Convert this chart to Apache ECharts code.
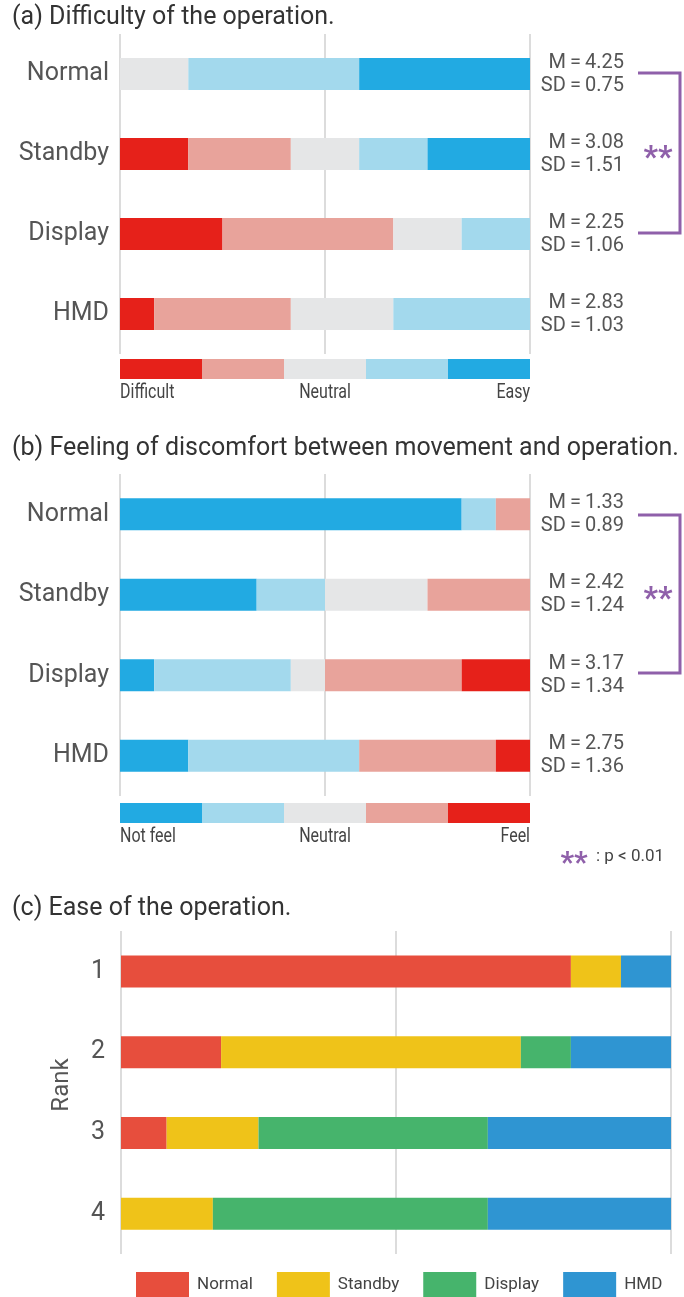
<!DOCTYPE html>
<html>
<head>
<meta charset="utf-8">
<script src="https://cdn.jsdelivr.net/npm/echarts@6/dist/echarts.min.js"></script>
<style>
  html, body { margin: 0; padding: 0; background: #fff; }
  #chart { width: 684px; height: 1297px; }
</style>
</head>
<body>
<div id="chart"></div>
<script>
// rows of panels (a) and (b)
const conditions = ["Normal", "Standby", "Display", "HMD"];

// (a) difficulty, number of answers (12 participants), Difficult -> Easy
const diffDifficult = [0, 2, 3, 1];
const diffRatherDifficult = [0, 3, 5, 4];
const diffNeutral = [2, 2, 2, 3];
const diffRatherEasy = [5, 2, 2, 4];
const diffEasy = [5, 3, 0, 0];
const diffMean = ["4.25", "3.08", "2.25", "2.83"];
const diffSD = ["0.75", "1.51", "1.06", "1.03"];

// (b) discomfort, Not feel -> Feel
const discNotFeel = [10, 4, 1, 2];
const discRatherNot = [1, 2, 4, 5];
const discNeutral = [0, 3, 1, 0];
const discRatherFeel = [1, 3, 4, 4];
const discFeel = [0, 0, 2, 1];
const discMean = ["1.33", "2.42", "3.17", "2.75"];
const discSD = ["0.89", "1.24", "1.34", "1.36"];

// (c) ease ranking, share of participants (%)
const ranks = ["1", "2", "3", "4"];
const rankNormal = [81.8, 18.2, 8.3, 0];
const rankStandby = [9.1, 54.5, 16.7, 16.7];
const rankDisplay = [0, 9.1, 41.7, 50.0];
const rankHMD = [9.1, 18.2, 33.3, 33.3];

const RED = "#e6211a", PINK = "#e8a39b", GREY = "#e5e6e7", LBLUE = "#a3d9ed", BLUE = "#22aae2";
const PURPLE = "#8f60aa";
const FONT = "Roboto";

const myChart = echarts.init(document.getElementById("chart"));

function valueAxis(idx, max, interval) {
  return {
    type: "value", gridIndex: idx, min: 0, max: max, interval: interval,
    axisLine: { show: false }, axisTick: { show: false }, axisLabel: { show: false },
    splitLine: { show: true, lineStyle: { color: "#dcdcdc", width: 2 } }
  };
}
function catAxis(idx, data, margin) {
  return {
    type: "category", gridIndex: idx, data: data, inverse: true,
    axisLine: { show: false }, axisTick: { show: false },
    axisLabel: { fontFamily: FONT, fontSize: 25, color: "#555", margin: margin }
  };
}
function statAxis(idx, means, sds) {
  return {
    type: "category", gridIndex: idx, data: conditions, inverse: true, position: "right",
    axisLine: { show: false }, axisTick: { show: false },
    axisLabel: {
      align: "right", margin: 94, fontFamily: FONT, fontSize: 20, color: "#555", lineHeight: 23,
      formatter: function (v, i) {
        return "M\u2009=\u2009" + means[i] + "\nSD\u2009=\u2009" + sds[i];
      }
    }
  };
}
function bar(name, data, color, idx, stack) {
  return {
    name: name, type: "bar", stack: stack, xAxisIndex: idx, yAxisIndex: idx,
    data: data, barWidth: 32, itemStyle: { color: color },
    silent: true
  };
}

// legend keys for the 5-point scales (condensed labels)
function keyLabel(text, x, y, align) {
  return {
    type: "text", x: x, y: y, scaleX: 0.8,
    style: { text: text, font: "20px " + FONT, fill: "#444", textAlign: align, textVerticalAlign: "middle" }
  };
}
function scaleKey(top, colors, labels) {
  const items = [];
  colors.forEach(function (c, i) {
    items.push({ type: "rect", shape: { x: 120 + i * 82, y: top, width: 82, height: 20 }, style: { fill: c } });
  });
  const ly = top + 34;
  items.push(keyLabel(labels[0], 120, ly, "left"));
  items.push(keyLabel(labels[1], 325, ly, "center"));
  items.push(keyLabel(labels[2], 530, ly, "right"));
  return items;
}
function title(text, y) {
  return { type: "text", x: 12, y: y, style: { text: text, font: "25px " + FONT, fill: "#333", textVerticalAlign: "middle" } };
}
function bracket(y1, y2) {
  return [
    { type: "polyline", shape: { points: [[638, y1], [680, y1], [680, y2], [638, y2]] }, style: { stroke: PURPLE, lineWidth: 3, fill: null } },
    { type: "text", x: 658, y: (y1 + y2) / 2 + 6, style: { text: "**", font: "bold 32px " + FONT, fill: PURPLE, textAlign: "center", textVerticalAlign: "middle" } }
  ];
}

const graphics = [].concat(
  [title("(a) Difficulty of the operation.", 18),
   title("(b) Feeling of discomfort between movement and operation.", 449),
   title("(c) Ease of the operation.", 909)],
  scaleKey(359, [RED, PINK, GREY, LBLUE, BLUE], ["Difficult", "Neutral", "Easy"]),
  scaleKey(803, [BLUE, LBLUE, GREY, PINK, RED], ["Not feel", "Neutral", "Feel"]),
  bracket(73, 233),
  bracket(515, 673),
  [
    { type: "text", x: 574, y: 864, style: { text: "**", font: "bold 30px " + FONT, fill: PURPLE, textAlign: "center", textVerticalAlign: "middle" } },
    { type: "text", x: 596, y: 857, style: { text: ": p < 0.01", font: "17px " + FONT, fill: "#444", textVerticalAlign: "middle" } },
    { type: "text", x: 62, y: 1085, rotation: Math.PI / 2, style: { text: "Rank", font: "24px " + FONT, fill: "#555", textAlign: "center", textVerticalAlign: "middle" } }
  ]
);

const option = {
  animation: false,
  grid: [
    { left: 120, top: 34, width: 410, height: 320 },
    { left: 120, top: 474, width: 410, height: 322 },
    { left: 121, top: 931, width: 550, height: 323 }
  ],
  xAxis: [valueAxis(0, 12, 6), valueAxis(1, 12, 6), valueAxis(2, 100, 50)],
  yAxis: [
    catAxis(0, conditions, 11), catAxis(1, conditions, 11), catAxis(2, ranks, 16),
    statAxis(0, diffMean, diffSD), statAxis(1, discMean, discSD)
  ],
  legend: {
    data: ["Normal", "Standby", "Display", "HMD"],
    left: 136, top: 1272, padding: 0, icon: "rect", itemWidth: 53, itemHeight: 25, itemGap: 24,
    textStyle: { fontFamily: FONT, fontSize: 17, color: "#444", padding: [0, 0, 0, 3] },
    selectedMode: false
  },
  graphic: graphics,
  series: [
    bar("Difficult", diffDifficult, RED, 0, "a"),
    bar("Rather difficult", diffRatherDifficult, PINK, 0, "a"),
    bar("Neutral a", diffNeutral, GREY, 0, "a"),
    bar("Rather easy", diffRatherEasy, LBLUE, 0, "a"),
    bar("Easy", diffEasy, BLUE, 0, "a"),
    bar("Not feel", discNotFeel, BLUE, 1, "b"),
    bar("Rather not", discRatherNot, LBLUE, 1, "b"),
    bar("Neutral b", discNeutral, GREY, 1, "b"),
    bar("Rather feel", discRatherFeel, PINK, 1, "b"),
    bar("Feel", discFeel, RED, 1, "b"),
    bar("Normal", rankNormal, "#e74e3d", 2, "c"),
    bar("Standby", rankStandby, "#efc319", 2, "c"),
    bar("Display", rankDisplay, "#46b46c", 2, "c"),
    bar("HMD", rankHMD, "#2f95d2", 2, "c")
  ]
};

option && myChart.setOption(option);
</script>
</body>
</html>
